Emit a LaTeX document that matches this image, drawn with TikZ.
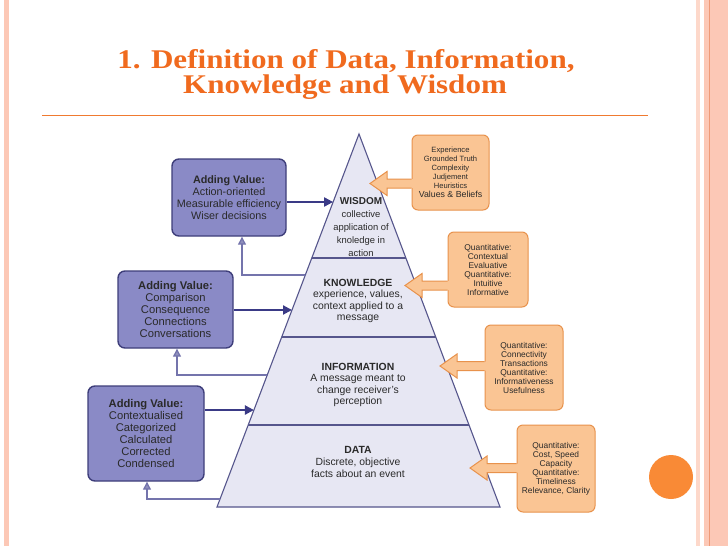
\documentclass[tikz,border=0pt]{standalone}
\usepackage{fontspec}
\setmainfont{Liberation Sans}
\newfontfamily\titlefont{Liberation Serif}
\usetikzlibrary{arrows.meta,calc}

\definecolor{titleorange}{HTML}{F06A1E}
\definecolor{ruleorange}{HTML}{F07A30}
\definecolor{framepink}{HTML}{FCC8B6}
\definecolor{framelight}{HTML}{FDD8CA}
\definecolor{frameline}{HTML}{EE9A78}
\definecolor{pyrfill}{HTML}{E7E7F3}
\definecolor{pyredge}{HTML}{56568C}
\definecolor{valuefill}{HTML}{8A8AC6}
\definecolor{valueedge}{HTML}{3E3E7A}
\definecolor{linkblue}{HTML}{3A3A86}
\definecolor{backlink}{HTML}{7474AC}
\definecolor{notefill}{HTML}{FAC594}
\definecolor{noteedge}{HTML}{E8924C}
\definecolor{dotorange}{HTML}{F98A36}
\definecolor{inktext}{HTML}{2A2A2A}

% arrow-shaped callout from an orange note box to the pyramid
\newcommand\leftblockarrow[2]{%
  \coordinate (ba-#1) at (#2.west |- #1);
  \fill[notefill] (#1) -- ($(#1)+(17,-12)$) -- ($(#1)+(17,-4.5)$) -- ($(ba-#1)+(2,-4.5)$)
    -- ($(ba-#1)+(2,4.5)$) -- ($(#1)+(17,4.5)$) -- ($(#1)+(17,12)$) -- cycle;
  \draw[noteedge, line width=1pt, line join=miter] ($(ba-#1)+(0.2,-4.5)$) -- ($(#1)+(17,-4.5)$)
    -- ($(#1)+(17,-12)$) -- (#1) -- ($(#1)+(17,12)$) -- ($(#1)+(17,4.5)$) -- ($(ba-#1)+(0.2,4.5)$);}

\begin{document}
\begin{tikzpicture}[x=1pt, y=-1pt,
  valuebox/.style={draw=valueedge, line width=1.4pt, fill=valuefill, rounded corners=7pt,
    align=center, text=inktext, inner sep=0pt, font=\fontsize{11.2}{12}\selectfont},
  notebox/.style={draw=noteedge, line width=1pt, fill=notefill, rounded corners=6pt,
    align=center, text=inktext, inner sep=0pt, font=\fontsize{8.4}{9}\selectfont},
  pyrtext/.style={align=center, text=inktext, inner sep=0pt, font=\fontsize{10.4}{11.6}\selectfont},
  pyrline/.style={draw=pyredge, line width=1.1pt},
  push/.style={draw=linkblue, line width=2pt, -{Triangle[length=9pt,width=9pt]}},
  pullback/.style={draw=backlink, line width=1.3pt, -{Triangle[length=8pt,width=8pt,fill=backlink!80!white]}}]

\useasboundingbox (0,0) rectangle (728,546);
\fill[white] (0,0) rectangle (728,546);

% slide frame strips
\fill[framepink] (4,0) rectangle (9,546);
\fill[framelight] (696,0) rectangle (699.5,546);
\fill[framepink] (704,0) rectangle (728,546);
\fill[frameline] (709,0) rectangle (710.2,546);

% heading
\node[anchor=base, text=titleorange, inner sep=0pt,
  font=\titlefont\bfseries\fontsize{27}{27}\selectfont] (title1) at (346,68)
  {\scalebox{1.15}[1]{1. Definition of Data, Information,}};
\node[anchor=base, text=titleorange, inner sep=0pt,
  font=\titlefont\bfseries\fontsize{27}{27}\selectfont] (title2) at (345,93)
  {\scalebox{1.15}[1]{Knowledge and Wisdom}};
\fill[ruleorange] (42,114.6) rectangle (648,116.2);

% pyramid
\coordinate (apex) at (359,134);
\coordinate (bl) at (217,507);
\coordinate (br) at (500,507);
\fill[pyrfill] (apex) -- (bl) -- (br) -- cycle;
\draw[pyrline] ($(apex)!0.3324!(bl)$) -- ($(apex)!0.3324!(br)$);
\draw[pyrline] ($(apex)!0.5442!(bl)$) -- ($(apex)!0.5442!(br)$);
\draw[pyrline] ($(apex)!0.7802!(bl)$) -- ($(apex)!0.7802!(br)$);
\draw[pyrline, line join=miter] (apex) -- (bl) -- (br) -- cycle;

\node[pyrtext, font=\fontsize{9.4}{13}\selectfont] (wisdom) at (361,227)
  {{\fontsize{10}{13}\selectfont\textbf{WISDOM}}\\collective\\application of\\knoledge in\\action};
\node[pyrtext] (knowledge) at (358,301)
  {\textbf{KNOWLEDGE}\\experience, values,\\context applied to a\\message};
\node[pyrtext] (information) at (358,385)
  {\textbf{INFORMATION}\\A message meant to\\change receiver's\\perception};
\node[pyrtext] (data) at (358,462)
  {\textbf{DATA}\\Discrete, objective\\facts about an event};

% points on the left flank of the pyramid
\coordinate (inW) at ($(apex)!0.1823!(bl)$);
\coordinate (inK) at ($(apex)!0.4718!(bl)$);
\coordinate (inI) at ($(apex)!0.7400!(bl)$);
\coordinate (outK) at ($(apex)!0.3780!(bl)$);
\coordinate (outI) at ($(apex)!0.6461!(bl)$);
\coordinate (outD) at ($(apex)!0.9786!(bl)$);

% value-adding boxes
\node[valuebox, font=\fontsize{10.8}{12}\selectfont, minimum width=114pt, minimum height=77pt] (valW) at (229,197.5)
  {\textbf{Adding Value:}\\Action-oriented\\Measurable efficiency\\Wiser decisions};
\node[valuebox, minimum width=115pt, minimum height=77pt] (valK) at (175.5,309.5)
  {\textbf{Adding Value:}\\Comparison\\Consequence\\Connections\\Conversations};
\node[valuebox, minimum width=116pt, minimum height=95pt] (valI) at (146,433.5)
  {\textbf{Adding Value:}\\Contextualised\\Categorized\\Calculated\\Corrected\\Condensed};

% value flows into the next level
\draw[push] (valW.east |- inW) -- (inW);
\draw[push] (valK.east |- inK) -- (inK);
\draw[push, line width=2.6pt] (valI.east |- inI) -- (inI);

% each level feeds back to the box above it
\draw[pullback] (outK) -| ([xshift=13pt]valW.south);
\draw[pullback] (outI) -| ([xshift=1.5pt]valK.south);
\draw[pullback] (outD) -| ([xshift=1pt]valI.south);

% measures for each level
\node[notebox, font=\fontsize{7.6}{8.9}\selectfont, minimum width=77pt, minimum height=75pt] (noteW) at (450.5,172.5)
  {Experience\\Grounded Truth\\Complexity\\Judjement\\Heuristics\\{\fontsize{8.8}{9}\selectfont Values \& Beliefs}};
\node[notebox, minimum width=80pt, minimum height=75pt] (noteK) at (488,269.5)
  {Quantitative:\\Contextual\\Evaluative\\Quantitative:\\Intuitive\\Informative};
\node[notebox, minimum width=78pt, minimum height=85pt] (noteI) at (524,367.5)
  {Quantitative:\\Connectivity\\Transactions\\Quantitative:\\Informativeness\\Usefulness};
\node[notebox, minimum width=78pt, minimum height=87pt] (noteD) at (556,468.5)
  {Quantitative:\\Cost, Speed\\Capacity\\Quantitative:\\Timeliness\\Relevance, Clarity};

\coordinate (tipW) at (370,183.5);
\coordinate (tipK) at (405,285.5);
\coordinate (tipI) at (440,366);
\coordinate (tipD) at (470,468);
\leftblockarrow{tipW}{noteW}
\leftblockarrow{tipK}{noteK}
\leftblockarrow{tipI}{noteI}
\leftblockarrow{tipD}{noteD}

% slide bullet
\fill[dotorange] (671,477) circle (22);
\end{tikzpicture}
\end{document}
